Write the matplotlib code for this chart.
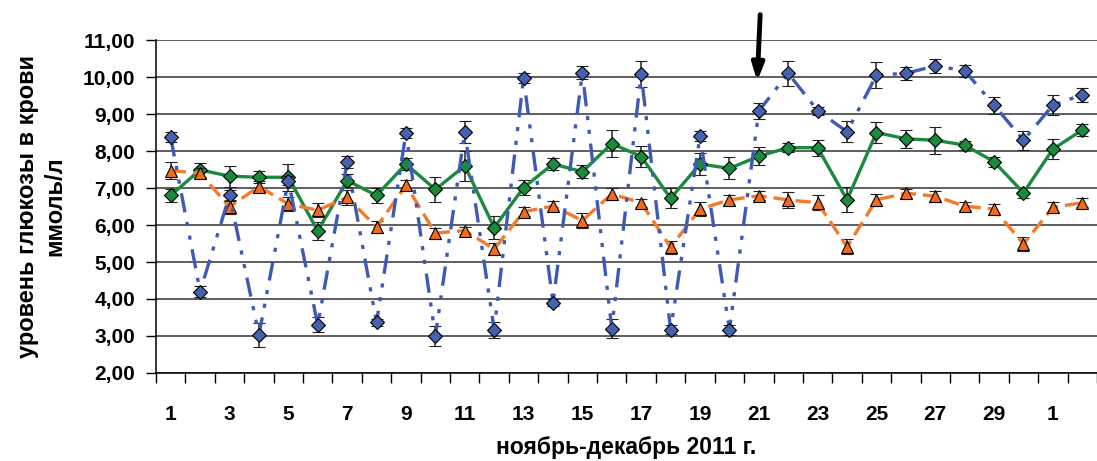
import numpy as np
import matplotlib.pyplot as plt

# ── Data ──────────────────────────────────
days = list(range(1, 31)) + [1, 2]
tick_labels = [str(d) if i % 2 == 0 else "" for i, d in enumerate(days)]

blue = [8.37, 4.20, 6.80, 3.03, 7.20, 3.30, 7.70, 3.37, 8.49, 3.00,
        8.52, 3.17, 9.97, 3.90, 10.12, 3.20, 10.08, 3.17, 8.40, 3.17,
        9.08, 10.10, 9.09, 8.52, 10.05, 10.10, 10.30, 10.17, 9.24, 8.29,
        9.24, 9.52]
blue_err = [0.14, 0.14, 0.15, 0.32, 0.12, 0.20, 0.16, 0.10, 0.13, 0.28,
            0.30, 0.22, 0.14, 0.10, 0.17, 0.26, 0.36, 0.12, 0.14, 0.13,
            0.22, 0.34, 0.11, 0.29, 0.36, 0.18, 0.18, 0.16, 0.23, 0.26,
            0.27, 0.19]

green = [6.80, 7.49, 7.32, 7.29, 7.29, 5.84, 7.20, 6.80, 7.65, 6.96,
         7.60, 5.93, 7.01, 7.65, 7.44, 8.20, 7.85, 6.72, 7.65, 7.53,
         7.86, 8.09, 8.09, 6.68, 8.50, 8.33, 8.29, 8.16, 7.71, 6.87,
         8.05, 8.57]
green_err = [0.18, 0.19, 0.28, 0.16, 0.37, 0.25, 0.18, 0.20, 0.16, 0.33,
             0.40, 0.30, 0.20, 0.16, 0.18, 0.36, 0.28, 0.27, 0.29, 0.30,
             0.24, 0.13, 0.22, 0.34, 0.28, 0.25, 0.36, 0.12, 0.13, 0.13,
             0.27, 0.17]

orange = [7.47, 7.40, 6.49, 7.04, 6.57, 6.40, 6.75, 5.94, 7.08, 5.78,
          5.85, 5.35, 6.36, 6.51, 6.12, 6.84, 6.60, 5.40, 6.43, 6.68,
          6.79, 6.68, 6.60, 5.41, 6.68, 6.86, 6.78, 6.51, 6.43, 5.49,
          6.48, 6.60]
orange_err = [0.24, 0.13, 0.18, 0.14, 0.18, 0.19, 0.20, 0.16, 0.14, 0.15,
              0.10, 0.16, 0.13, 0.13, 0.20, 0.16, 0.11, 0.18, 0.20, 0.14,
              0.12, 0.22, 0.20, 0.20, 0.16, 0.12, 0.15, 0.10, 0.14, 0.19,
              0.14, 0.12]

# ── Figure ────────────────────────────────
plt.rcParams['font.family'] = ['Liberation Sans', 'DejaVu Sans']
plt.rcParams['font.weight'] = 'bold'
plt.rcParams['lines.scale_dashes'] = False

fig = plt.figure(figsize=(10.97, 4.61), dpi=100)
ax = fig.add_axes([0.1422, 0.1909, 0.8578, 0.7223])

x = np.arange(len(days))

ax.errorbar(x, green, yerr=green_err, color='#1B8A3E', lw=2.4, ls='-',
            marker='D', ms=7, mfc='#1B8A3E', mec='black', mew=0.8,
            ecolor='#222222', elinewidth=1.1, capsize=4, capthick=1.1, zorder=3)
ax.errorbar(x, orange, yerr=orange_err, color='#F47A2C', lw=2.4,
            dashes=(11, 5), marker='^', ms=9, mfc='#F26A1B', mec='black', mew=0.8,
            ecolor='#222222', elinewidth=1.1, capsize=4, capthick=1.1, zorder=4)
ax.errorbar(x, blue, yerr=blue_err, color='#3D5AB4', lw=2.4,
            dashes=(14, 7, 3, 7, 3, 7), marker='D', ms=7, mfc='#4462B0',
            mec='black', mew=0.8, ecolor='#222222', elinewidth=1.1,
            capsize=4, capthick=1.1, zorder=5)

ax.set_ylim(2, 11)
ax.set_yticks(np.arange(2, 11.01, 1))
ax.set_yticklabels([f"{v:.2f}".replace('.', ',') for v in np.arange(2, 11.01, 1)])
ax.set_xlim(-0.5, 31.24)
ax.set_xticks(x)
ax.set_xticklabels(tick_labels)
ax.set_xticks(np.arange(-0.5, 32, 1), minor=True)
ax.tick_params(axis='x', which='major', length=0, pad=23, labelsize=15)
ax.tick_params(axis='x', which='minor', length=7, width=1, direction='out')
ax.tick_params(axis='y', length=7, width=1, direction='out', pad=8, labelsize=15)

ax.grid(axis='y', color='#333333', lw=1.1)
ax.set_axisbelow(True)
for s in ['top', 'right']:
    ax.spines[s].set_visible(False)
ax.spines['left'].set_linewidth(1.1)
ax.spines['bottom'].set_linewidth(1.1)

ax.set_ylabel("уровень глюкозы в крови\nммоль/л", fontsize=17, fontweight='bold',
              labelpad=12, linespacing=1.2)
ax.set_xlabel("ноябрь-декабрь 2011 г.", fontsize=16.5, fontweight='bold', labelpad=9)

# arrow marking day 21
ax.annotate("", xy=(19.94, 9.81), xytext=(20.05, 11.76),
            arrowprops=dict(arrowstyle='-|>,head_width=0.35,head_length=1.0',
                            lw=3.5, color='black'),
            annotation_clip=False)

fig.savefig("out.png", dpi=100)
